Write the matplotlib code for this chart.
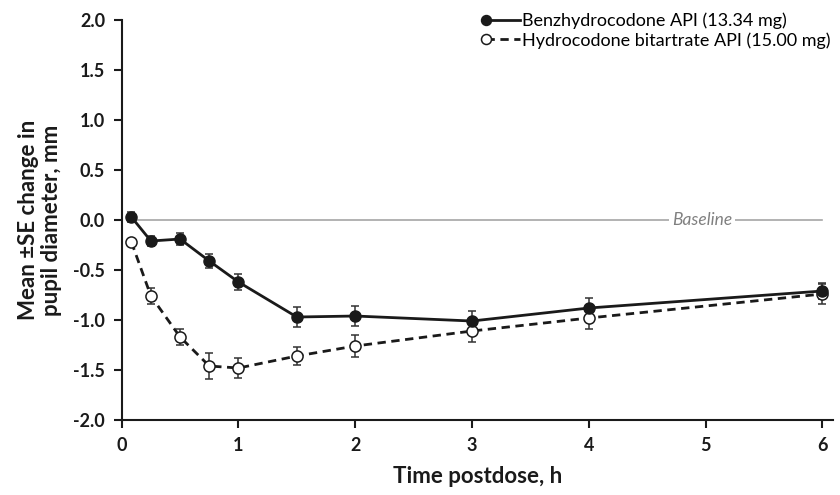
import numpy as np
import matplotlib
matplotlib.use('Agg')
import matplotlib.pyplot as plt
from matplotlib.legend_handler import HandlerLine2D

plt.rcParams['font.family'] = ['Lato', 'DejaVu Sans']

# time points (h)
t = [0.083, 0.25, 0.5, 0.75, 1, 1.5, 2, 3, 4, 6]

# Benzhydrocodone API (13.34 mg)
bzh_mean = [0.03, -0.21, -0.19, -0.41, -0.62, -0.97, -0.96, -1.01, -0.88, -0.71]
bzh_se = [0.05, 0.05, 0.06, 0.07, 0.08, 0.10, 0.10, 0.10, 0.10, 0.08]

# Hydrocodone bitartrate API (15.00 mg)
hyd_mean = [-0.22, -0.76, -1.17, -1.46, -1.48, -1.36, -1.26, -1.11, -0.98, -0.74]
hyd_se = [0.03, 0.08, 0.08, 0.13, 0.10, 0.09, 0.11, 0.11, 0.11, 0.10]

labels = ['Benzhydrocodone API (13.34 mg)', 'Hydrocodone bitartrate API (15.00 mg)']


class LeftMarker(HandlerLine2D):
    # legend key with the marker at the left end of the line
    def create_artists(self, *args, **kw):
        arts = super().create_artists(*args, **kw)
        arts[0].set_markevery([0])
        return arts


fig = plt.figure(figsize=(8.4, 4.95), dpi=100)
ax = fig.add_axes([0.1449, 0.1515, 0.8465, 0.808])

# baseline
ax.plot([0.083, 6], [0, 0], color='#a6a6a6', lw=1.2, zorder=1)
ax.text(4.97, 0, 'Baseline', style='italic', color='#808080', fontsize=12.5,
        ha='center', va='center', zorder=2,
        bbox=dict(facecolor='white', edgecolor='none', pad=2))

# error bars
ax.errorbar(t, bzh_mean, yerr=bzh_se, fmt='none', ecolor='#333333',
            elinewidth=1.1, capsize=3, capthick=1.1, zorder=3)
ax.errorbar(t, hyd_mean, yerr=hyd_se, fmt='none', ecolor='#333333',
            elinewidth=1.1, capsize=3, capthick=1.1, zorder=3)

# lines + markers
l1, = ax.plot(t, bzh_mean, color='#1a1a1a', lw=2, marker='o', ms=8,
              mfc='#1a1a1a', mec='#1a1a1a', label=labels[0], zorder=5)
l2, = ax.plot(t, hyd_mean, color='#1a1a1a', lw=2, ls=(0, (3, 2)), marker='o', ms=8,
              mfc='white', mec='#1a1a1a', mew=1.1, label=labels[1], zorder=4)

ax.set_xlim(0, 6.09)
ax.set_ylim(-2.0, 2.0)
ax.set_xticks(range(0, 7))
ax.set_yticks(np.arange(-2.0, 2.01, 0.5))
ax.set_yticklabels(['%.1f' % v for v in np.arange(-2.0, 2.01, 0.5)])

for s in ['top', 'right']:
    ax.spines[s].set_visible(False)
for s in ['left', 'bottom']:
    ax.spines[s].set_linewidth(1.5)
    ax.spines[s].set_color('#1a1a1a')
ax.tick_params(direction='out', length=6, width=1.5, color='#1a1a1a',
               labelsize=13, pad=6)
for lab in ax.get_xticklabels() + ax.get_yticklabels():
    lab.set_fontweight('bold')
    lab.set_color('#1a1a1a')

ax.set_xlabel('Time postdose, h', fontsize=16, fontweight='bold',
              color='#1a1a1a', labelpad=9)
ax.set_ylabel('Mean \u00b1SE change in\npupil diameter, mm', fontsize=16,
              fontweight='bold', color='#1a1a1a', labelpad=8, linespacing=1.1)

leg = ax.legend(loc='upper right', bbox_to_anchor=(1.012, 1.045), frameon=False,
                fontsize=13, handlelength=1.9, handletextpad=0.1,
                labelspacing=0.15, borderaxespad=0.2, markerscale=0.9,
                handler_map={l1: LeftMarker(), l2: LeftMarker()})

fig.savefig('out.png', dpi=100)
